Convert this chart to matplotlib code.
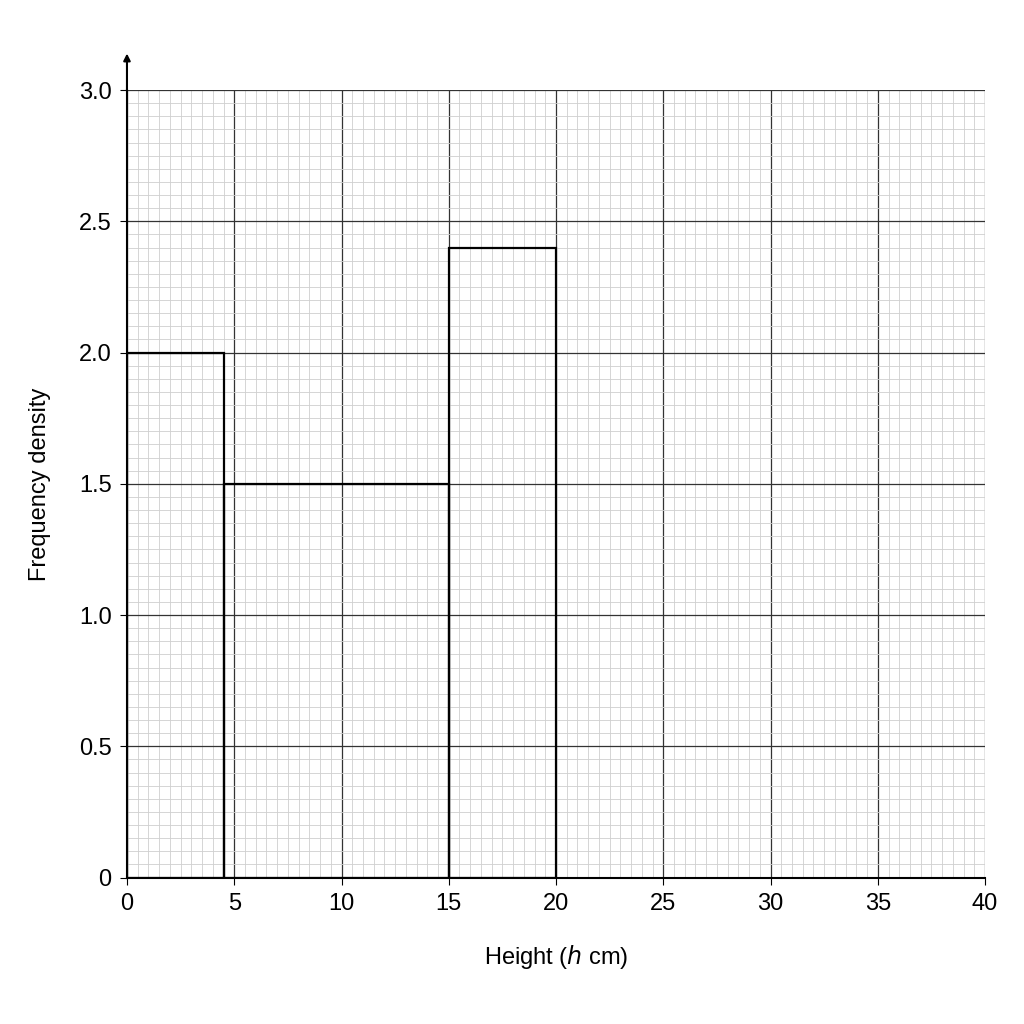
import matplotlib.pyplot as plt
import numpy as np

edges = [0, 4.5, 15, 20]
density = [2.0, 1.5, 2.4]
x_ticks = [0, 5, 10, 15, 20, 25, 30, 35, 40]
y_ticks = [0, 0.5, 1.0, 1.5, 2.0, 2.5, 3.0]
y_labels = ["0", "0.5", "1.0", "1.5", "2.0", "2.5", "3.0"]

plt.rcParams['font.family'] = ['Liberation Sans', 'DejaVu Sans']
fig = plt.figure(figsize=(10.24, 10.24), dpi=100)
ax = fig.add_axes([0.124, 0.143, 0.838, 0.769])

ax.set_xlim(0, 40)
ax.set_ylim(0, 3.0)
ax.set_xticks(x_ticks)
ax.set_yticks(y_ticks)
ax.set_yticklabels(y_labels)
# minor grid, skipping positions that already have a major line
xm = [v for v in np.arange(0, 40.01, 0.5) if abs(v / 5 - round(v / 5)) > 1e-6]
ym = [v for v in np.arange(0, 3.001, 0.05) if abs(v / 0.5 - round(v / 0.5)) > 1e-6]
ax.set_xticks(xm, minor=True)
ax.set_yticks(ym, minor=True)
ax.grid(which="minor", color="#cfcfcf", lw=0.6)
ax.grid(which="major", color="#333333", lw=0.9)
ax.tick_params(which="minor", length=0)
ax.tick_params(which="major", length=5, labelsize=17, color="black", pad=6)
for s in ["top", "right"]:
    ax.spines[s].set_visible(False)
ax.spines["left"].set_linewidth(1.5)
ax.spines["bottom"].set_linewidth(1.5)
ax.set_axisbelow(True)

ax.bar(edges[:-1], density, width=np.diff(edges), align="edge",
       fill=False, edgecolor="black", lw=1.6, zorder=3)

ax.annotate("", xy=(0, 3.15), xytext=(0, 2.99), xycoords="data",
            arrowprops=dict(arrowstyle="-|>", color="black", lw=1.5),
            annotation_clip=False)

ax.set_xlabel("Height ($h$ cm)", fontsize=17, labelpad=20)
ax.set_ylabel("Frequency density", fontsize=17, labelpad=20)

fig.savefig("out.png", dpi=100)
